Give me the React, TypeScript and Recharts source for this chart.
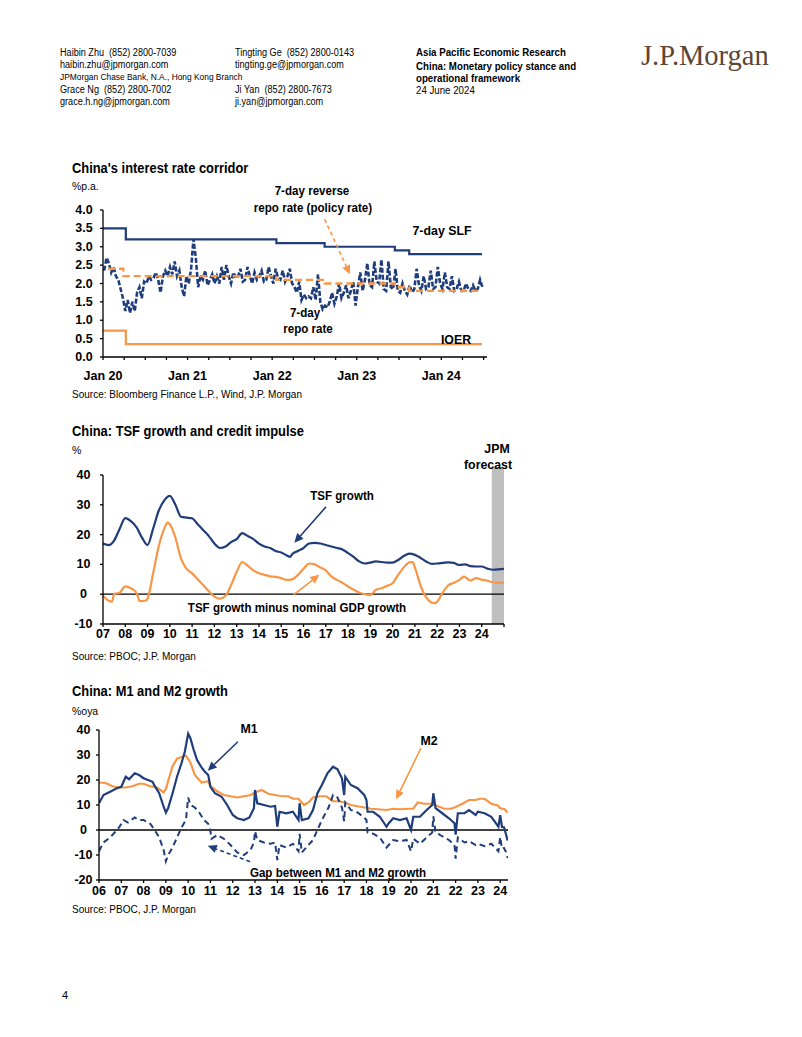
import React from 'react';
import { LineChart, Line, XAxis, YAxis, ReferenceLine, ReferenceArea } from 'recharts';

const BLUE = '#1F3D7A';
const ORANGE = '#F79646';
const GREY = '#BFBFBF';
const FONT = "'Liberation Sans', Arial, sans-serif";

// ---------- Chart 1: China's interest rate corridor ----------
const repoStartYear = 2020;
// 7-day repo rate, three readings per month, Jan 2020 .. Jun 2024
const repoMonthly: number[][] = [
  [2.35, 2.7, 2.55], [2.3, 2.45, 2.2], [2.1, 1.85, 1.6], [1.25, 1.55, 1.2], [1.5, 1.25, 1.75], [1.9, 1.6, 2.05],
  [2.0, 2.2, 2.1], [2.15, 2.3, 2.1], [1.75, 2.2, 2.35], [2.2, 2.45, 2.25], [2.6, 2.2, 2.35], [1.9, 1.65, 2.2],
  [2.0, 2.4, 3.2], [2.7, 1.9, 2.2], [2.1, 2.35, 1.95], [2.1, 2.25, 2.0], [2.2, 2.0, 2.45], [2.1, 2.5, 2.2],
  [2.0, 2.3, 2.15], [2.2, 2.4, 2.05], [2.1, 2.45, 2.2], [2.0, 2.3, 2.1], [2.2, 2.35, 2.05], [2.1, 2.45, 2.2],
  [2.0, 2.4, 2.15], [2.1, 2.35, 2.05], [2.2, 2.4, 2.0], [1.9, 1.75, 2.05], [1.55, 1.7, 1.6], [1.65, 1.6, 1.9],
  [1.55, 2.25, 1.5], [1.3, 1.4, 1.35], [1.5, 1.75, 1.45], [1.65, 2.0, 1.6], [1.75, 1.95, 1.6], [1.8, 2.05, 1.4],
  [1.9, 2.3, 1.8], [2.1, 2.55, 1.95], [1.9, 2.6, 2.05], [2.0, 2.65, 1.85], [1.8, 2.6, 1.9], [1.85, 2.4, 1.8],
  [1.75, 2.0, 1.8], [1.7, 1.95, 1.75], [1.85, 2.4, 1.95], [1.8, 2.2, 1.85], [1.9, 2.35, 1.85], [1.9, 2.45, 2.0],
  [1.85, 2.3, 1.9], [1.85, 2.2, 1.8], [1.85, 2.05, 1.8], [1.8, 2.0, 1.85], [1.8, 1.95, 1.8], [1.85, 2.1, 1.9],
];
const slfDates = [2020.0, 2020.27, 2022.05, 2022.62, 2023.45, 2023.62, 2024.48];
const slfValues = [3.5, 3.2, 3.1, 3.0, 2.9, 2.8, 2.8];
const policyDates = [2020.06, 2020.24, 2022.05, 2022.62, 2023.45, 2023.62, 2024.48];
const policyValues = [2.4, 2.2, 2.1, 2.0, 1.9, 1.8, 1.8];
const ioerDates = [2020.0, 2020.27, 2024.48];
const ioerValues = [0.72, 0.35, 0.35];
const corridorTicks = [2020, 2020.25, 2020.5, 2020.75, 2021, 2021.25, 2021.5, 2021.75, 2022, 2022.25, 2022.5, 2022.75, 2023, 2023.25, 2023.5, 2023.75, 2024, 2024.25, 2024.5];
const corridorYears = [2020, 2021, 2022, 2023, 2024];
const corridorLabels = ['Jan 20', 'Jan 21', 'Jan 22', 'Jan 23', 'Jan 24'];
const corridorYTicks = [0, 0.5, 1, 1.5, 2, 2.5, 3, 3.5, 4];

// ---------- Chart 2: TSF growth and credit impulse ----------
const tsfDates = [2007.0, 2007.25, 2007.5, 2007.75, 2008.0, 2008.25, 2008.5, 2008.75, 2009.0, 2009.25, 2009.5, 2009.75, 2010.0, 2010.25, 2010.5, 2010.75, 2011.0, 2011.25, 2011.5, 2011.75, 2012.0, 2012.25, 2012.5, 2012.75, 2013.0, 2013.25, 2013.5, 2013.75, 2014.0, 2014.25, 2014.5, 2014.75, 2015.0, 2015.25, 2015.4, 2015.5, 2015.75, 2016.0, 2016.25, 2016.5, 2016.75, 2017.0, 2017.25, 2017.5, 2017.75, 2018.0, 2018.25, 2018.5, 2018.75, 2019.0, 2019.25, 2019.5, 2019.75, 2020.0, 2020.25, 2020.5, 2020.75, 2021.0, 2021.25, 2021.5, 2021.75, 2022.0, 2022.25, 2022.5, 2022.75, 2023.0, 2023.25, 2023.5, 2023.75, 2024.0, 2024.25, 2024.5, 2024.75, 2025.0];
const tsfValues = [17.0, 16.5, 18.0, 22.0, 25.5, 24.5, 22.5, 19.0, 16.5, 22.0, 28.0, 31.5, 33.0, 30.0, 26.0, 25.7, 25.5, 23.5, 21.5, 19.5, 17.0, 15.5, 16.0, 17.5, 18.5, 20.5, 19.5, 18.5, 17.0, 16.0, 15.5, 14.5, 14.0, 13.0, 12.5, 13.5, 14.5, 15.5, 17.0, 17.2, 17.0, 16.5, 16.0, 15.5, 15.0, 13.8, 12.5, 11.0, 10.3, 10.6, 11.0, 10.8, 10.6, 10.6, 11.5, 12.8, 13.6, 13.2, 12.2, 11.0, 10.2, 10.3, 10.5, 10.7, 10.5, 9.8, 10.0, 9.4, 9.3, 9.3, 8.6, 8.2, 8.3, 8.5];
const impulseDates = [2007.0, 2007.25, 2007.4, 2007.5, 2007.75, 2008.0, 2008.25, 2008.5, 2008.65, 2008.9, 2009.0, 2009.25, 2009.5, 2009.75, 2009.9, 2010.0, 2010.25, 2010.5, 2010.75, 2011.0, 2011.25, 2011.5, 2011.75, 2012.0, 2012.25, 2012.5, 2012.75, 2013.0, 2013.25, 2013.5, 2013.75, 2014.0, 2014.25, 2014.5, 2014.75, 2015.0, 2015.25, 2015.5, 2015.75, 2016.0, 2016.25, 2016.5, 2016.75, 2017.0, 2017.25, 2017.5, 2017.75, 2018.0, 2018.25, 2018.5, 2018.75, 2019.0, 2019.25, 2019.5, 2019.75, 2020.0, 2020.25, 2020.5, 2020.75, 2020.9, 2021.0, 2021.25, 2021.5, 2021.75, 2021.9, 2022.0, 2022.25, 2022.5, 2022.75, 2023.0, 2023.2, 2023.5, 2023.75, 2024.0, 2024.25, 2024.5, 2024.75, 2025.0];
const impulseValues = [-0.5, -2.2, -2.5, 0.0, 0.5, 2.6, 2.0, 0.5, -2.3, -2.2, -1.5, 7.0, 16.0, 22.0, 24.0, 23.5, 19.0, 12.0, 8.5, 7.0, 5.0, 3.0, 1.0, -0.8, -1.5, -0.5, 3.0, 7.5, 10.8, 9.5, 8.0, 7.0, 6.5, 6.0, 5.8, 5.4, 4.8, 5.0, 6.5, 8.5, 10.3, 10.0, 9.0, 8.0, 6.0, 4.8, 3.8, 2.6, 1.5, 0.6, 0.0, -0.3, 1.5, 2.0, 2.8, 3.7, 6.5, 9.0, 10.7, 10.8, 9.0, 3.0, -1.0, -2.8, -3.0, -2.5, 0.5, 3.0, 3.8, 4.8, 5.9, 4.6, 5.4, 4.9, 4.5, 4.0, 3.8, 4.0];
const tsfTicks = [2007, 2008, 2009, 2010, 2011, 2012, 2013, 2014, 2015, 2016, 2017, 2018, 2019, 2020, 2021, 2022, 2023, 2024, 2025];
const tsfLabels = ['07', '08', '09', '10', '11', '12', '13', '14', '15', '16', '17', '18', '19', '20', '21', '22', '23', '24', ''];
const tsfYTicks = [-10, 0, 10, 20, 30, 40];
const forecastStart = 2024.45;
const forecastEnd = 2025.0;

// ---------- Chart 3: M1 and M2 growth ----------
const m1Dates = [2006.0, 2006.2, 2006.5, 2006.8, 2007.0, 2007.2, 2007.35, 2007.6, 2007.8, 2008.0, 2008.2, 2008.4, 2008.5, 2008.7, 2008.9, 2009.0, 2009.1, 2009.3, 2009.5, 2009.7, 2009.85, 2010.0, 2010.1, 2010.25, 2010.4, 2010.6, 2010.75, 2010.9, 2011.0, 2011.2, 2011.5, 2011.75, 2012.0, 2012.2, 2012.5, 2012.75, 2012.95, 2013.0, 2013.1, 2013.4, 2013.7, 2013.9, 2014.0, 2014.1, 2014.4, 2014.7, 2014.95, 2015.0, 2015.1, 2015.4, 2015.6, 2015.8, 2016.0, 2016.25, 2016.5, 2016.7, 2016.9, 2017.0, 2017.05, 2017.3, 2017.6, 2017.9, 2018.0, 2018.05, 2018.3, 2018.6, 2018.9, 2019.0, 2019.2, 2019.5, 2019.8, 2020.0, 2020.1, 2020.4, 2020.7, 2020.95, 2021.0, 2021.1, 2021.4, 2021.7, 2021.95, 2022.0, 2022.1, 2022.4, 2022.6, 2022.9, 2023.0, 2023.3, 2023.6, 2023.92, 2024.0, 2024.08, 2024.17, 2024.25, 2024.33];
const m1Values = [10.7, 14.0, 15.3, 16.7, 17.3, 21.3, 20.3, 22.7, 22.0, 20.7, 20.0, 19.3, 17.6, 14.7, 9.3, 7.0, 8.7, 14.7, 21.3, 26.7, 31.3, 38.5, 36.7, 32.0, 28.0, 25.0, 23.3, 22.0, 17.3, 14.7, 13.3, 10.0, 6.0, 4.7, 4.0, 5.0, 8.7, 16.0, 10.7, 10.0, 9.3, 9.6, 1.3, 7.3, 6.7, 7.3, 4.0, 10.7, 4.0, 4.7, 8.0, 14.7, 18.0, 22.7, 25.3, 24.3, 20.7, 14.0, 21.3, 18.0, 16.7, 14.0, 12.0, 7.3, 7.3, 5.3, 1.3, 2.7, 4.7, 4.0, 4.7, 0.0, 5.3, 5.3, 8.0, 10.0, 14.7, 8.7, 6.7, 4.7, 2.7, -1.9, 6.7, 6.7, 8.0, 6.0, 7.3, 6.7, 5.3, 1.3, 5.9, 1.2, 1.1, -1.4, -4.2];
const m2Dates = [2006.0, 2006.3, 2006.6, 2006.9, 2007.2, 2007.5, 2007.8, 2008.0, 2008.3, 2008.6, 2008.9, 2009.0, 2009.3, 2009.5, 2009.8, 2009.9, 2010.1, 2010.3, 2010.6, 2010.9, 2011.0, 2011.3, 2011.6, 2011.9, 2012.2, 2012.5, 2012.8, 2013.0, 2013.3, 2013.6, 2013.9, 2014.2, 2014.5, 2014.7, 2014.95, 2015.2, 2015.4, 2015.6, 2015.9, 2016.2, 2016.5, 2016.8, 2017.0, 2017.3, 2017.6, 2017.9, 2018.2, 2018.5, 2018.9, 2019.2, 2019.5, 2019.9, 2020.1, 2020.3, 2020.6, 2020.9, 2021.2, 2021.5, 2021.8, 2022.0, 2022.3, 2022.6, 2022.9, 2023.1, 2023.3, 2023.6, 2023.9, 2024.0, 2024.2, 2024.33];
const m2Values = [19.0, 18.8, 17.5, 17.0, 17.0, 17.5, 18.5, 18.5, 17.5, 17.0, 15.0, 16.5, 25.5, 28.5, 29.5, 29.7, 27.0, 22.0, 19.0, 19.5, 17.5, 15.5, 14.0, 13.5, 13.0, 13.5, 14.0, 15.0, 16.0, 14.5, 14.0, 13.5, 13.5, 12.5, 12.5, 10.0, 11.0, 13.0, 13.5, 13.5, 11.5, 11.5, 11.0, 10.0, 9.5, 9.0, 8.5, 8.3, 8.0, 8.5, 8.3, 8.5, 8.5, 11.0, 10.5, 10.5, 9.5, 8.5, 8.5, 9.2, 10.5, 12.0, 12.0, 12.5, 12.5, 10.5, 9.8, 8.7, 8.3, 7.0];
const gapDates = [2006.0, 2006.2, 2006.5, 2006.7, 2006.9, 2007.1, 2007.3, 2007.6, 2007.8, 2008.0, 2008.3, 2008.5, 2008.7, 2008.9, 2009.0, 2009.1, 2009.3, 2009.5, 2009.7, 2009.9, 2010.0, 2010.1, 2010.3, 2010.5, 2010.7, 2010.9, 2011.0, 2011.05, 2011.3, 2011.6, 2011.9, 2012.2, 2012.5, 2012.8, 2012.95, 2013.0, 2013.1, 2013.4, 2013.7, 2013.9, 2014.0, 2014.1, 2014.4, 2014.7, 2014.95, 2015.0, 2015.1, 2015.4, 2015.6, 2015.8, 2016.0, 2016.3, 2016.5, 2016.7, 2016.9, 2017.0, 2017.05, 2017.3, 2017.6, 2017.9, 2018.0, 2018.05, 2018.3, 2018.6, 2018.9, 2019.0, 2019.2, 2019.5, 2019.8, 2020.0, 2020.1, 2020.4, 2020.7, 2020.95, 2021.0, 2021.1, 2021.4, 2021.7, 2021.95, 2022.0, 2022.1, 2022.4, 2022.6, 2022.9, 2023.0, 2023.3, 2023.6, 2023.92, 2024.0, 2024.08, 2024.17, 2024.25, 2024.33];
const gapValues = [-8.5, -5.0, -3.0, -1.0, 1.0, 4.0, 3.0, 5.0, 4.0, 4.0, 2.5, 0.0, -3.0, -8.0, -12.5, -10.0, -7.0, -3.0, 1.0, 4.0, 13.0, 10.0, 9.0, 7.0, 4.0, 2.5, -0.5, -3.5, -2.0, -3.5, -6.0, -9.0, -10.0, -8.0, -5.0, -0.5, -4.0, -5.0, -5.5, -5.0, -12.0, -6.0, -7.0, -5.5, -8.5, -1.5, -9.0, -6.0, -4.0, 0.0, 4.0, 9.0, 14.0, 13.0, 9.0, 3.5, 11.0, 8.0, 7.0, 5.0, 4.0, -1.0, -1.5, -3.0, -7.0, -6.0, -4.0, -4.5, -4.0, -8.5, -3.5, -5.5, -3.0, -1.0, 5.5, -1.0, -2.5, -4.0, -6.0, -11.5, -3.0, -5.0, -4.5, -6.0, -5.5, -6.5, -5.5, -8.5, -2.8, -7.5, -7.2, -8.6, -11.2];
const moneyTicks = [2006, 2007, 2008, 2009, 2010, 2011, 2012, 2013, 2014, 2015, 2016, 2017, 2018, 2019, 2020, 2021, 2022, 2023, 2024];
const moneyLabels = ['06', '07', '08', '09', '10', '11', '12', '13', '14', '15', '16', '17', '18', '19', '20', '21', '22', '23', '24'];
const moneyYTicks = [-20, -10, 0, 10, 20, 30, 40];

// ---------- helpers ----------
const zip = (xs: number[], ys: number[]) => xs.map((x, i) => ({ x, y: ys[i] }));
const repoData = repoMonthly.flatMap((trip, m) =>
  trip.map((v, k) => ({ x: repoStartYear + (m + (k + 0.5) / 3) / 12, y: v }))
);

const labelFor = (ticks: number[], labels: string[]) => (v: number) => {
  const i = ticks.indexOf(v);
  return i >= 0 ? labels[i] : '';
};

const tickStyle = { fill: '#000', fontSize: 12.5, fontWeight: 700, fontFamily: FONT };
const axisStroke = { stroke: '#000', strokeWidth: 1.3 };

const makeYTick = (offset: number, fmt: (v: number) => string) => (props: any) => {
  const { x, y, payload } = props;
  return (
    <text x={x - offset} y={y} textAnchor="middle" dominantBaseline="central" fill="#000" fontSize={12.5} fontWeight={700} fontFamily={FONT}>
      {fmt(payload.value)}
    </text>
  );
};

const arrowShape = (color: string, dashed = false) => (p: any) => {
  const x1 = Number(p.x1), y1 = Number(p.y1), x2 = Number(p.x2), y2 = Number(p.y2);
  const ang = Math.atan2(y2 - y1, x2 - x1);
  const L = 9, W = 4.2;
  const bx = x2 - L * Math.cos(ang), by = y2 - L * Math.sin(ang);
  const px = -Math.sin(ang) * W, py = Math.cos(ang) * W;
  return (
    <g>
      <line x1={x1} y1={y1} x2={bx} y2={by} stroke={color} strokeWidth={1.6} strokeDasharray={dashed ? '4 3' : undefined} />
      <polygon points={`${x2},${y2} ${bx + px},${by + py} ${bx - px},${by - py}`} fill={color} />
    </g>
  );
};

type TProps = { x: number; y: number; children: React.ReactNode; size?: number; bold?: boolean; center?: boolean; color?: string; family?: string; sx?: number };
const T = ({ x, y, children, size = 12, bold = false, center = false, color = '#000', family = FONT, sx = 1 }: TProps) => (
  <div
    style={{
      position: 'absolute', left: x, top: y,
      transform: (center ? 'translate(-50%,-50%)' : 'translate(0,-50%)') + ` scaleX(${sx})`,
      transformOrigin: center ? 'center center' : 'left center',
      fontSize: size, fontWeight: bold ? 700 : 400, whiteSpace: 'nowrap', lineHeight: 1, color, fontFamily: family,
    }}
  >
    {children}
  </div>
);

const HS = 0.91; // condensed regular text
const AS = 0.89; // condensed bold annotations
const TS = 0.92; // condensed titles

export default function App() {
  return (
    <div style={{ position: 'absolute', left: 0, top: 0, width: 802, height: 1037, background: '#fff', fontFamily: FONT, overflow: 'hidden' }}>
      {/* header */}
      <T x={60} y={53} size={10} sx={HS}>Haibin Zhu&nbsp; (852) 2800-7039</T>
      <T x={60} y={65} size={10} sx={HS}>haibin.zhu@jpmorgan.com</T>
      <T x={60} y={77} size={9} sx={0.93}>JPMorgan Chase Bank, N.A., Hong Kong Branch</T>
      <T x={60} y={90} size={10} sx={HS}>Grace Ng&nbsp; (852) 2800-7002</T>
      <T x={60} y={102} size={10} sx={HS}>grace.h.ng@jpmorgan.com</T>
      <T x={235} y={53} size={10} sx={HS}>Tingting Ge&nbsp; (852) 2800-0143</T>
      <T x={235} y={65} size={10} sx={HS}>tingting.ge@jpmorgan.com</T>
      <T x={235} y={90} size={10} sx={HS}>Ji Yan&nbsp; (852) 2800-7673</T>
      <T x={235} y={102} size={10} sx={HS}>ji.yan@jpmorgan.com</T>
      <T x={416} y={53} size={10} bold sx={0.97}>Asia Pacific Economic Research</T>
      <T x={416} y={67} size={10} bold sx={0.97}>China: Monetary policy stance and</T>
      <T x={416} y={79} size={10} bold sx={0.97}>operational framework</T>
      <T x={416} y={91} size={10} sx={0.97}>24 June 2024</T>
      <T x={641} y={56} size={28.5} color="#5C4636" family="'Liberation Serif', 'Times New Roman', serif" sx={1.0}>J.P.Morgan</T>

      {/* Chart 1 */}
      <T x={72} y={168} size={14} bold sx={TS}>China's interest rate corridor</T>
      <T x={72} y={187} size={11.5} sx={HS}>%p.a.</T>
      <div style={{ position: 'absolute', left: 59, top: 200 }}>
        <LineChart width={440} height={190} margin={{ top: 10, right: 12, bottom: 3, left: 0 }}>
          <XAxis type="number" dataKey="x" domain={[2020, 2024.54]} ticks={corridorTicks} allowDataOverflow
            tickFormatter={labelFor(corridorYears, corridorLabels)} tickSize={3} tickMargin={11} height={30}
            tick={tickStyle} axisLine={axisStroke} tickLine={axisStroke} interval={0} />
          <YAxis type="number" domain={[0, 4]} ticks={corridorYTicks} width={44} tickSize={3} tickMargin={2}
            tick={makeYTick(14, (v) => v.toFixed(1))} axisLine={axisStroke} tickLine={axisStroke} interval={0} />
          <Line data={zip(slfDates, slfValues)} dataKey="y" type="stepAfter" stroke={BLUE} strokeWidth={2.2} dot={false} isAnimationActive={false} />
          <Line data={zip(ioerDates, ioerValues)} dataKey="y" type="stepAfter" stroke={ORANGE} strokeWidth={2.2} dot={false} isAnimationActive={false} />
          <Line data={repoData} dataKey="y" type="linear" stroke={BLUE} strokeWidth={2.6} strokeDasharray="5 2" dot={false} isAnimationActive={false} />
          <Line data={zip(policyDates, policyValues)} dataKey="y" type="stepAfter" stroke={ORANGE} strokeWidth={2.4} strokeDasharray="7 4" dot={false} isAnimationActive={false} />
          <ReferenceLine segment={[{ x: 2022.62, y: 3.75 }, { x: 2022.92, y: 2.25 }]} shape={arrowShape(ORANGE, true)} ifOverflow="visible" />
        </LineChart>
      </div>
      <T x={312} y={190} size={13} bold center sx={AS}>7-day reverse</T>
      <T x={313} y={207} size={13} bold center sx={AS}>repo rate (policy rate)</T>
      <T x={442} y={230} size={13} bold center sx={0.95}>7-day SLF</T>
      <T x={305} y={312} size={13} bold center sx={AS}>7-day</T>
      <T x={308} y={328} size={13} bold center sx={AS}>repo rate</T>
      <T x={456} y={339} size={13} bold center sx={0.95}>IOER</T>
      <T x={72} y={394} size={11} sx={HS}>Source: Bloomberg Finance L.P., Wind, J.P. Morgan</T>

      {/* Chart 2 */}
      <T x={72} y={431} size={14} bold sx={TS}>China: TSF growth and credit impulse</T>
      <T x={72} y={451} size={11.5} sx={HS}>%</T>
      <div style={{ position: 'absolute', left: 59, top: 465 }}>
        <LineChart width={450} height={185} margin={{ top: 10, right: 5, bottom: 2, left: 0 }}>
          <XAxis type="number" dataKey="x" domain={[2007, 2025]} ticks={tsfTicks} allowDataOverflow
            tickFormatter={labelFor(tsfTicks, tsfLabels)} tickSize={3} tickMargin={2} height={24}
            tick={tickStyle} axisLine={axisStroke} tickLine={axisStroke} interval={0} />
          <YAxis type="number" domain={[-10, 40]} ticks={tsfYTicks} width={44} tickSize={3} tickMargin={2}
            tick={makeYTick(14.5, (v) => String(v))} axisLine={axisStroke} tickLine={axisStroke} interval={0} />
          <ReferenceArea x1={forecastStart} x2={forecastEnd} y1={-10} y2={42.7} fill={GREY} fillOpacity={1} stroke="none" ifOverflow="visible" />
          <ReferenceLine y={0} stroke="#000" strokeWidth={1.3} />
          <Line data={zip(tsfDates, tsfValues)} dataKey="y" type="monotone" stroke={BLUE} strokeWidth={2.2} dot={false} isAnimationActive={false} />
          <Line data={zip(impulseDates, impulseValues)} dataKey="y" type="monotone" stroke={ORANGE} strokeWidth={2.2} dot={false} isAnimationActive={false} />
          <ReferenceLine segment={[{ x: 2017.01, y: 29.3 }, { x: 2015.59, y: 17.3 }]} shape={arrowShape(BLUE)} ifOverflow="visible" />
          <ReferenceLine segment={[{ x: 2015.55, y: -0.2 }, { x: 2016.71, y: 6.5 }]} shape={arrowShape(ORANGE)} ifOverflow="visible" />
        </LineChart>
      </div>
      <T x={497} y={448} size={13} bold center sx={0.95}>JPM</T>
      <T x={488} y={464} size={13} bold center sx={0.95}>forecast</T>
      <T x={342} y={495} size={13} bold center sx={AS}>TSF growth</T>
      <T x={297} y={607} size={13} bold center sx={AS}>TSF growth minus nominal GDP growth</T>
      <T x={72} y={656} size={11} sx={HS}>Source: PBOC; J.P. Morgan</T>

      {/* Chart 3 */}
      <T x={72} y={691} size={14} bold sx={TS}>China: M1 and M2 growth</T>
      <T x={72} y={712} size={11.5} sx={HS}>%oya</T>
      <div style={{ position: 'absolute', left: 55, top: 720 }}>
        <LineChart width={460} height={185} margin={{ top: 10, right: 7, bottom: 2, left: 0 }}>
          <XAxis type="number" dataKey="x" domain={[2006, 2024.35]} ticks={moneyTicks} allowDataOverflow
            tickFormatter={labelFor(moneyTicks, moneyLabels)} tickSize={3} tickMargin={3} height={23}
            tick={tickStyle} axisLine={axisStroke} tickLine={axisStroke} interval={0} />
          <YAxis type="number" domain={[-20, 40]} ticks={moneyYTicks} width={44} tickSize={3} tickMargin={2}
            tick={makeYTick(10.5, (v) => String(v))} axisLine={axisStroke} tickLine={axisStroke} interval={0} />
          <ReferenceLine y={0} stroke="#000" strokeWidth={1.3} />
          <Line data={zip(m2Dates, m2Values)} dataKey="y" type="linear" stroke={ORANGE} strokeWidth={2.2} dot={false} isAnimationActive={false} />
          <Line data={zip(gapDates, gapValues)} dataKey="y" type="linear" stroke={BLUE} strokeWidth={2} strokeDasharray="6 4" dot={false} isAnimationActive={false} />
          <Line data={zip(m1Dates, m1Values)} dataKey="y" type="linear" stroke={BLUE} strokeWidth={2.2} dot={false} isAnimationActive={false} />
          <ReferenceLine segment={[{ x: 2012.23, y: 35.3 }, { x: 2010.88, y: 23.7 }]} shape={arrowShape(BLUE)} ifOverflow="visible" />
          <ReferenceLine segment={[{ x: 2020.44, y: 32.7 }, { x: 2019.33, y: 12.3 }]} shape={arrowShape(ORANGE)} ifOverflow="visible" />
          <ReferenceLine segment={[{ x: 2012.78, y: -12.7 }, { x: 2010.88, y: -6.3 }]} shape={arrowShape(BLUE, true)} ifOverflow="visible" />
        </LineChart>
      </div>
      <T x={249} y={728} size={13} bold center sx={0.95}>M1</T>
      <T x={429} y={740} size={13} bold center sx={0.95}>M2</T>
      <T x={338} y={872} size={13} bold center sx={AS}>Gap between M1 and M2 growth</T>
      <T x={72} y={909} size={11} sx={HS}>Source: PBOC, J.P. Morgan</T>

      <T x={62} y={995} size={11}>4</T>
    </div>
  );
}
